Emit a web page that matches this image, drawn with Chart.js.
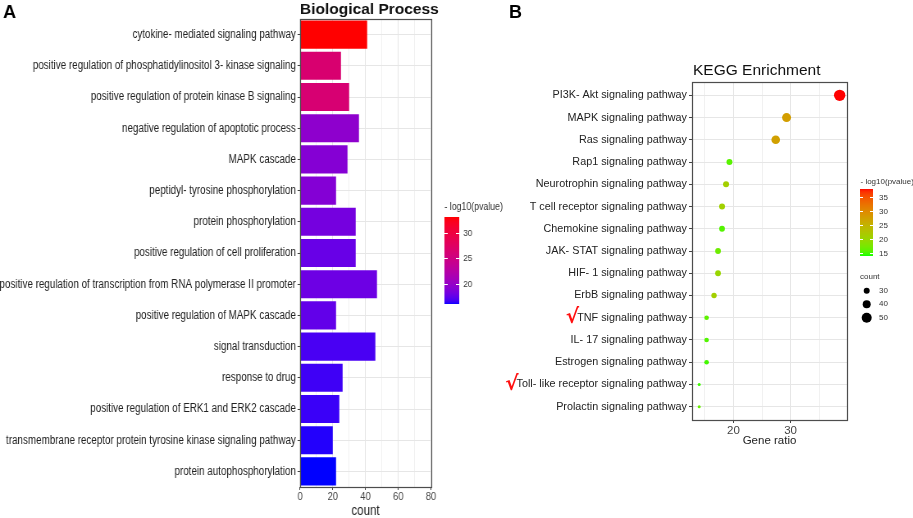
<!DOCTYPE html>
<html>
<head>
<meta charset="utf-8">
<script src="https://cdn.jsdelivr.net/npm/chart.js@4.4.1/dist/chart.umd.min.js"></script>
<style>
  html, body { margin: 0; padding: 0; background: #fff; }
  #wrap { position: relative; width: 913px; height: 518px; overflow: hidden; }
  #wrap canvas { position: absolute; left: 0; top: 0; }
  /* panel A of the figure is a horizontally squeezed image */
  #bp { transform: scaleX(0.82); transform-origin: 0 0; }
</style>
</head>
<body>
<div id="wrap">
  <canvas id="bp" width="1114" height="518"></canvas>
  <canvas id="kegg" width="913" height="518"></canvas>
</div>
<script>
// Panel A: GO biological process
const bpTerms = [
  'cytokine- mediated signaling pathway',
  'positive regulation of phosphatidylinositol 3- kinase signaling',
  'positive regulation of protein kinase B signaling',
  'negative regulation of apoptotic process',
  'MAPK cascade',
  'peptidyl- tyrosine phosphorylation',
  'protein phosphorylation',
  'positive regulation of cell proliferation',
  'positive regulation of transcription from RNA polymerase II promoter',
  'positive regulation of MAPK cascade',
  'signal transduction',
  'response to drug',
  'positive regulation of ERK1 and ERK2 cascade',
  'transmembrane receptor protein tyrosine kinase signaling pathway',
  'protein autophosphorylation'
]
const bpCount = [41, 25, 30, 36, 29, 22, 34, 34, 47, 22, 46, 26, 24, 20, 22]
const bpLogP = [33.1, 26.5, 26.3, 19.6, 19.1, 19.0, 18.3, 17.8, 18.0, 17.6, 16.9, 16.7, 16.6, 16.3, 16.1]
const bpTicks = [0, 20, 40, 60, 80]
const bpLegendTicks = [20, 25, 30]

// Panel B: KEGG enrichment
const keggTerms = [
  'PI3K- Akt signaling pathway',
  'MAPK signaling pathway',
  'Ras signaling pathway',
  'Rap1 signaling pathway',
  'Neurotrophin signaling pathway',
  'T cell receptor signaling pathway',
  'Chemokine signaling pathway',
  'JAK- STAT signaling pathway',
  'HIF- 1 signaling pathway',
  'ErbB signaling pathway',
  'TNF signaling pathway',
  'IL- 17 signaling pathway',
  'Estrogen signaling pathway',
  'Toll- like receptor signaling pathway',
  'Prolactin signaling pathway'
]
const keggRatio = [38.6, 29.3, 27.4, 19.3, 18.7, 18.0, 18.0, 17.3, 17.3, 16.6, 15.3, 15.3, 15.3, 14.0, 14.0]
const keggCount = [57, 45, 43, 30, 30, 30, 29, 29, 29, 27, 23, 23, 23, 15, 15]
const keggLogP = [37.7, 27.5, 27.2, 15.8, 21.0, 20.8, 15.6, 16.8, 20.0, 21.0, 16.0, 15.5, 15.0, 14.8, 16.5]
const keggTicks = [20, 30]
const keggLegendTicks = [15, 20, 25, 30, 35]
const keggCountTicks = [30, 40, 50]
const keggMarked = ['TNF signaling pathway', 'Toll- like receptor signaling pathway']

const SANS = '"Liberation Sans", Arial, sans-serif'
const K = 0.82   // horizontal squeeze of panel A

// ggplot-like gradient, interpolated in Lab space
function toLin(c) { c /= 255; return c <= 0.04045 ? c / 12.92 : Math.pow((c + 0.055) / 1.055, 2.4) }
function fromLin(c) {
  c = c <= 0.0031308 ? 12.92 * c : 1.055 * Math.pow(c, 1 / 2.4) - 0.055
  return Math.round(Math.max(0, Math.min(1, c)) * 255)
}
function rgbToLab([r, g, b]) {
  const R = toLin(r), G = toLin(g), B = toLin(b)
  const X = (0.4124564 * R + 0.3575761 * G + 0.1804375 * B) / 0.95047
  const Y = 0.2126729 * R + 0.7151522 * G + 0.0721750 * B
  const Z = (0.0193339 * R + 0.1191920 * G + 0.9503041 * B) / 1.08883
  const f = t => t > 0.008856 ? Math.cbrt(t) : 7.787 * t + 16 / 116
  return [116 * f(Y) - 16, 500 * (f(X) - f(Y)), 200 * (f(Y) - f(Z))]
}
function labToRgb([L, a, b]) {
  const fy = (L + 16) / 116, fx = fy + a / 500, fz = fy - b / 200
  const inv = t => t * t * t > 0.008856 ? t * t * t : (t - 16 / 116) / 7.787
  const X = inv(fx) * 0.95047, Y = inv(fy), Z = inv(fz) * 1.08883
  const R = 3.2404542 * X - 1.5371385 * Y - 0.4985314 * Z
  const G = -0.9692660 * X + 1.8760108 * Y + 0.0415560 * Z
  const B = 0.0556434 * X - 0.2040259 * Y + 1.0572252 * Z
  return `rgb(${fromLin(R)}, ${fromLin(G)}, ${fromLin(B)})`
}
function palette(low, high, min, max) {
  return { lo: rgbToLab(low), hi: rgbToLab(high), min, max }
}
function colorAt(pal, v) {
  const t = Math.max(0, Math.min(1, (v - pal.min) / (pal.max - pal.min)))
  return labToRgb(pal.lo.map((c, i) => c + (pal.hi[i] - c) * t))
}

const BP_PAL = palette([0, 0, 255], [255, 0, 0], 16.1, 33.1)
const KEGG_PAL = palette([0, 255, 0], [255, 0, 0], 14.0, 37.7)

const sizeFor = count => count / 10

function drawColorbar(ctx, pal, box, ticks, font, labelX) {
  for (let y = 0; y < box.h; y++) {
    const v = pal.max - (pal.max - pal.min) * (y + 0.5) / box.h
    ctx.fillStyle = colorAt(pal, v)
    ctx.fillRect(box.x, box.y + y, box.w, 1)
  }
  ctx.strokeStyle = '#fff'
  ctx.lineWidth = 1
  ctx.font = font
  ctx.fillStyle = '#333'
  ctx.textAlign = 'left'
  ctx.textBaseline = 'middle'
  const tl = Math.round(box.w / 5)
  ticks.forEach(v => {
    const y = Math.round(box.y + box.h * (pal.max - v) / (pal.max - pal.min)) + 0.5
    ctx.beginPath()
    ctx.moveTo(box.x, y); ctx.lineTo(box.x + tl, y)
    ctx.moveTo(box.x + box.w - tl, y); ctx.lineTo(box.x + box.w, y)
    ctx.stroke()
    ctx.fillText(String(v), labelX, y)
  })
}

function drawFrame(chart) {
  const { ctx, chartArea: a } = chart
  ctx.save()
  ctx.strokeStyle = '#4d4d4d'
  ctx.lineWidth = 1.2
  ctx.strokeRect(Math.round(a.left) + 0.5, Math.round(a.top) + 0.5, Math.round(a.right - a.left), Math.round(a.bottom - a.top))
  ctx.restore()
}

const bpDecor = {
  id: 'bpDecor',
  afterDraw(chart) {
    const { ctx } = chart
    drawFrame(chart)
    ctx.save()
    // panel letter and title are not squeezed
    ctx.save()
    ctx.scale(1 / K, 1)
    ctx.fillStyle = '#000'
    ctx.textAlign = 'left'
    ctx.textBaseline = 'alphabetic'
    ctx.font = 'bold 18px ' + SANS
    ctx.fillText('A', 3, 18)
    ctx.fillStyle = '#111'
    ctx.font = 'bold 15.5px ' + SANS
    ctx.fillText('Biological Process', 300, 14)
    ctx.restore()

    ctx.fillStyle = '#333'
    ctx.font = '10.7px ' + SANS
    ctx.textBaseline = 'middle'
    ctx.fillText('- log10(pvalue)', 542, 207)
    drawColorbar(ctx, BP_PAL, { x: 542, y: 217, w: 18, h: 87 }, bpLegendTicks, '9.8px ' + SANS, 565)
    ctx.restore()
  }
}

const keggDecor = {
  id: 'keggDecor',
  afterDraw(chart) {
    const { ctx, chartArea } = chart
    drawFrame(chart)
    ctx.save()
    ctx.fillStyle = '#000'
    ctx.textAlign = 'left'
    ctx.textBaseline = 'alphabetic'
    ctx.font = 'bold 18px ' + SANS
    ctx.fillText('B', 509, 18)
    ctx.fillStyle = '#111'
    ctx.font = '15.5px ' + SANS
    ctx.fillText('KEGG Enrichment', 693, 75)

    // colour legend
    ctx.fillStyle = '#333'
    ctx.font = '8px ' + SANS
    ctx.textBaseline = 'middle'
    ctx.fillText('- log10(pvalue)', 860.5, 182)
    drawColorbar(ctx, KEGG_PAL, { x: 860, y: 189, w: 13, h: 67 }, keggLegendTicks, '8px ' + SANS, 879)

    // size legend
    ctx.fillStyle = '#333'
    ctx.fillText('count', 860, 277)
    keggCountTicks.forEach((c, i) => {
      const y = 290.7 + i * 13.5
      ctx.fillStyle = '#000'
      ctx.beginPath()
      ctx.arc(866.7, y, sizeFor(c), 0, Math.PI * 2)
      ctx.fill()
      ctx.fillStyle = '#333'
      ctx.fillText(String(c), 879, y)
    })

    // red check marks before marked pathways
    const yScale = chart.scales.y
    const labelRight = chartArea.left - 5
    keggMarked.forEach(name => {
      ctx.font = '10.8px ' + SANS
      const w = ctx.measureText(name).width
      const y = yScale.getPixelForValue(keggTerms.indexOf(name))
      ctx.fillStyle = '#ff1010'
      ctx.font = 'italic bold 20px "DejaVu Sans", sans-serif'
      ctx.textAlign = 'right'
      ctx.textBaseline = 'middle'
      ctx.fillText('√', labelRight - w + 2, y)
    })
    ctx.restore()
  }
}

const gridMajor = '#e6e6e6'
const gridMinor = '#f1f1f1'

new Chart(document.getElementById('bp'), {
  type: 'bar',
  data: {
    labels: bpTerms,
    datasets: [{
      data: bpCount,
      backgroundColor: bpLogP.map(v => colorAt(BP_PAL, v)),
      categoryPercentage: 1,
      barPercentage: 0.9
    }]
  },
  options: {
    indexAxis: 'y',
    responsive: false,
    animation: false,
    events: [],
    layout: { padding: { left: 0, right: 1114 - 431 / K, top: 19, bottom: 0 } },
    plugins: { legend: { display: false }, tooltip: { enabled: false } },
    scales: {
      x: {
        type: 'linear',
        min: 0,
        max: 80,
        afterBuildTicks: s => { s.ticks = [0, 10, 20, 30, 40, 50, 60, 70, 80].map(v => ({ value: v })) },
        afterFit: s => { s.height = 31 },
        ticks: {
          callback: v => bpTicks.includes(v) ? String(v) : '',
          autoSkip: false, maxRotation: 0, padding: 0,
          color: '#444', font: { family: SANS, size: 11.5 }
        },
        grid: {
          color: c => bpTicks.includes(c.tick.value) ? gridMajor : gridMinor,
          tickLength: 3,
          tickWidth: 1,
          tickColor: c => bpTicks.includes(c.tick.value) ? '#444' : 'rgba(0,0,0,0)'
        },
        border: { display: false },
        title: {
          display: true, text: 'count', color: '#222',
          font: { family: SANS, size: 14, lineHeight: 1 },
          padding: { top: 0, bottom: 0 }
        }
      },
      y: {
        afterFit: s => { s.width = 300 / K },
        ticks: { color: '#222', padding: 2, autoSkip: false, font: { family: SANS, size: 12 } },
        grid: { offset: false, color: gridMajor, tickLength: 3, tickColor: '#444' },
        border: { display: false }
      }
    }
  },
  plugins: [bpDecor]
})

new Chart(document.getElementById('kegg'), {
  type: 'bubble',
  data: {
    datasets: [{
      data: keggTerms.map((t, i) => ({ x: keggRatio[i], y: i, r: sizeFor(keggCount[i]) })),
      backgroundColor: keggLogP.map(v => colorAt(KEGG_PAL, v)),
      borderWidth: 0
    }]
  },
  options: {
    responsive: false,
    animation: false,
    events: [],
    layout: { padding: { left: 0, right: 66, top: 82, bottom: 68 } },
    plugins: { legend: { display: false }, tooltip: { enabled: false } },
    scales: {
      x: {
        type: 'linear',
        min: 12.74,
        max: 39.88,
        afterBuildTicks: s => { s.ticks = [15, 20, 25, 30, 35].map(v => ({ value: v })) },
        afterFit: s => { s.height = 30 },
        ticks: {
          callback: v => keggTicks.includes(v) ? String(v) : '',
          autoSkip: false, maxRotation: 0, padding: 1,
          color: '#444', font: { family: SANS, size: 11.5 }
        },
        grid: {
          color: c => keggTicks.includes(c.tick.value) ? gridMajor : gridMinor,
          tickLength: 3,
          tickWidth: 1,
          tickColor: c => keggTicks.includes(c.tick.value) ? '#444' : 'rgba(0,0,0,0)'
        },
        border: { display: false },
        title: {
          display: true, text: 'Gene ratio', color: '#222',
          font: { family: SANS, size: 11.5, lineHeight: 1 },
          padding: { top: 0, bottom: 3 }
        }
      },
      y: {
        type: 'linear',
        reverse: true,
        min: -0.6,
        max: 14.6,
        afterBuildTicks: s => { s.ticks = keggTerms.map((t, i) => ({ value: i })) },
        afterFit: s => { s.width = 692 },
        ticks: {
          callback: v => keggTerms[v],
          color: '#222', padding: 2, autoSkip: false,
          font: { family: SANS, size: 10.8 }
        },
        grid: { color: gridMajor, tickLength: 3, tickColor: '#444' },
        border: { display: false }
      }
    }
  },
  plugins: [keggDecor]
})
</script>
</body>
</html>
